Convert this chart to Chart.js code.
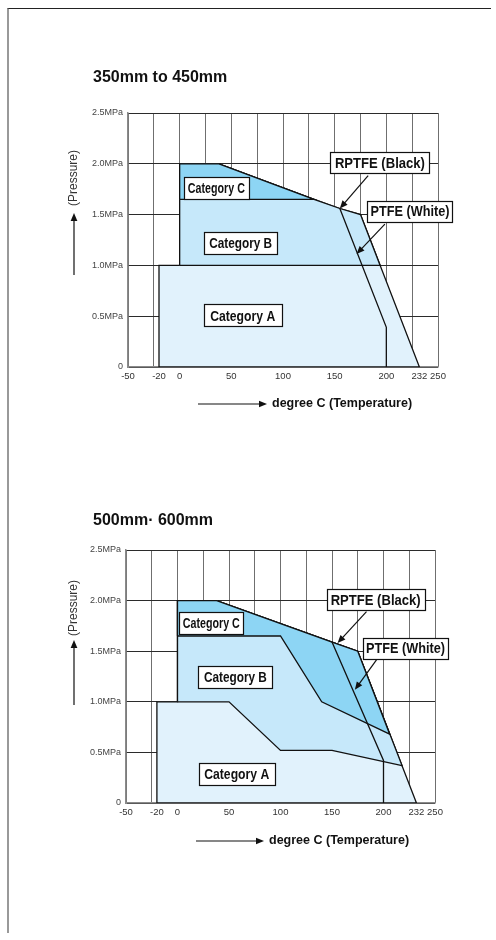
<!DOCTYPE html>
<html>
<head>
<meta charset="utf-8">
<script src="https://cdn.jsdelivr.net/npm/chart.js@4"></script>
<style>
  html, body { margin: 0; padding: 0; background: #fff; }
  body { width: 496px; height: 940px; position: relative; overflow: hidden; }
  canvas { position: absolute; left: 0; display: block; }
  #frame { position: absolute; left: 7px; top: 8px; width: 482px; height: 924px;
           border-top: 1px solid #222; border-left: 2px solid #999; }
</style>
</head>
<body>
<div id="frame"></div>
<canvas id="chart1" width="496" height="470" style="top:0"></canvas>
<canvas id="chart2" width="496" height="470" style="top:470px"></canvas>
<script>
// axes
const xGrid = [-50, -25, -20, 0, 25, 50, 75, 100, 125, 150, 175, 200, 225, 232, 250];
const xLabels = [-50, -20, 0, 50, 100, 150, 200, 232, 250];
const xNoGrid = [-20, 232];
const yTicks = [0, 0.5, 1.0, 1.5, 2.0, 2.5];

// 350mm to 450mm
const ptfe1T = [-20, -20, 0, 0, 38, 130, 155, 175, 232, -20];
const ptfe1P = [0, 1.0, 1.0, 2.0, 2.0, 1.65, 1.56, 1.5, 0, 0];
const catB1T = [0, 0, 38, 130, 155, 175, 194, 0];
const catB1P = [1.0, 2.0, 2.0, 1.65, 1.56, 1.5, 1.0, 1.0];
const catC1T = [0, 0, 38, 130, 0];
const catC1P = [1.65, 2.0, 2.0, 1.65, 1.65];
const rptfe1T = [155, 200, 200];
const rptfe1P = [1.56, 0.39, 0];

// 500mm - 600mm
const ptfe2T = [-20, -20, 0, 0, 38, 150, 175, 232, -20];
const ptfe2P = [0, 1.0, 1.0, 2.0, 2.0, 1.59, 1.5, 0, 0];
const catB2T = [0, 0, 38, 150, 175, 218, 150, 100, 50, 0];
const catB2P = [1.0, 2.0, 2.0, 1.59, 1.5, 0.37, 0.52, 0.52, 1.0, 1.0];
const catC2T = [0, 0, 38, 150, 175, 206, 140, 100, 0];
const catC2P = [1.65, 2.0, 2.0, 1.59, 1.5, 0.68, 1.0, 1.65, 1.65];
const rptfe2T = [150, 200, 200];
const rptfe2P = [1.59, 0.42, 0];

const labelTexts = ['Category C', 'Category B', 'Category A', 'RPTFE (Black)', 'PTFE (White)'];

const FONT = "'Liberation Sans', Arial, Helvetica, sans-serif";
const colA = '#e1f2fc', colB = '#c6e8fa', colC = '#8dd5f4';

Chart.defaults.font.family = FONT;

function pts(ts, ps) {
  return ts.map((t, i) => ({ x: t, y: ps[i] }));
}

function area(ts, ps, bg, order) {
  return {
    data: pts(ts, ps), showLine: true, fill: 'shape', backgroundColor: bg,
    borderColor: '#111', borderWidth: 1.3, pointRadius: 0, tension: 0, order,
  };
}

function arrow(ctx, x0, y0, x1, y1, head) {
  const a = Math.atan2(y1 - y0, x1 - x0);
  ctx.beginPath();
  ctx.moveTo(x0, y0);
  ctx.lineTo(x1 - Math.cos(a) * head * 0.8, y1 - Math.sin(a) * head * 0.8);
  ctx.stroke();
  ctx.beginPath();
  ctx.moveTo(x1, y1);
  ctx.lineTo(x1 - head * Math.cos(a) + head * 0.42 * Math.sin(a), y1 - head * Math.sin(a) - head * 0.42 * Math.cos(a));
  ctx.lineTo(x1 - head * Math.cos(a) - head * 0.42 * Math.sin(a), y1 - head * Math.sin(a) + head * 0.42 * Math.cos(a));
  ctx.closePath();
  ctx.fill();
}

function decor(cfg) {
  return {
    id: 'decor',
    afterDatasetsDraw(chart) {
      const { ctx } = chart;
      const sx = chart.scales.x, sy = chart.scales.y;
      ctx.save();
      ctx.strokeStyle = '#111';
      ctx.fillStyle = '#111';
      ctx.lineWidth = 1.2;
      cfg.arrows.forEach(a => arrow(ctx,
        sx.getPixelForValue(a[0]), sy.getPixelForValue(a[1]),
        sx.getPixelForValue(a[2]), sy.getPixelForValue(a[3]), 8));
      cfg.boxes.forEach((b, i) => {
        const cx = sx.getPixelForValue(b.t), cy = sy.getPixelForValue(b.p);
        const l = Math.round(cx - b.w / 2) + 0.5, t = Math.round(cy - b.h / 2) + 0.5;
        ctx.fillStyle = '#fff';
        ctx.fillRect(l, t, b.w, b.h);
        ctx.lineWidth = 1.2;
        ctx.strokeStyle = '#111';
        ctx.strokeRect(l, t, b.w, b.h);
        ctx.fillStyle = '#111';
        ctx.font = 'bold ' + b.fs + 'px ' + FONT;
        ctx.textAlign = 'center';
        ctx.textBaseline = 'middle';
        ctx.fillText(labelTexts[i], cx, cy + 1, b.tw);
      });
      ctx.restore();
    },
    afterDraw(chart) {
      const { ctx } = chart;
      ctx.save();
      ctx.fillStyle = '#111';
      ctx.strokeStyle = '#111';
      ctx.textBaseline = 'middle';
      ctx.textAlign = 'left';
      ctx.font = 'bold 16px ' + FONT;
      ctx.fillText(cfg.title, cfg.titleX, cfg.titleY);

      ctx.font = 'bold 12.5px ' + FONT;
      ctx.fillText('degree C (Temperature)', cfg.xt.tx, cfg.xt.y);
      ctx.lineWidth = 1.2;
      arrow(ctx, cfg.xt.x0, cfg.xt.y, cfg.xt.x1, cfg.xt.y, 8);

      ctx.save();
      ctx.translate(cfg.yt.x, cfg.yt.ty);
      ctx.rotate(-Math.PI / 2);
      ctx.textAlign = 'center';
      ctx.fillStyle = '#333';
      ctx.font = '12px ' + FONT;
      ctx.fillText('(Pressure)', 0, 0);
      ctx.restore();
      arrow(ctx, cfg.yt.x, cfg.yt.y0, cfg.yt.x, cfg.yt.y1, 8);
      ctx.restore();
    },
  };
}

function makeChart(id, datasets, box, cfg) {
  return new Chart(document.getElementById(id), {
    type: 'scatter',
    data: { datasets },
    options: {
      responsive: false,
      animation: false,
      layout: { padding: { left: 0, top: box.top, right: box.right, bottom: 0 } },
      plugins: { legend: { display: false }, tooltip: { enabled: false } },
      scales: {
        x: {
          type: 'linear', min: -50, max: 250,
          afterBuildTicks: ax => { ax.ticks = xGrid.map(v => ({ value: v })); },
          afterFit: s => { s.height = box.xh; },
          grid: {
            color: c => (c.tick && xNoGrid.includes(c.tick.value)) ? 'rgba(0,0,0,0)' : '#6f6f6f',
            lineWidth: 1, drawTicks: false,
          },
          border: { color: '#8a8a8a', width: 1.5 },
          ticks: {
            autoSkip: false, maxRotation: 0, padding: 4, color: '#333', font: { size: 9.5 },
            callback: v => xLabels.includes(v) ? String(v) : '',
          },
        },
        y: {
          type: 'linear', min: 0, max: 2.5,
          afterBuildTicks: ax => { ax.ticks = yTicks.map(v => ({ value: v })); },
          afterFit: s => { s.width = box.yw; },
          grid: { color: '#2b2b2b', lineWidth: 1, drawTicks: false },
          border: { color: '#8a8a8a', width: 1.5 },
          ticks: {
            padding: 5, color: '#444', font: { size: 9 },
            callback: v => v === 0 ? '0' : v.toFixed(1) + 'MPa',
          },
        },
      },
    },
    plugins: [decor(cfg)],
  });
}

makeChart('chart1', [
  area(ptfe1T, ptfe1P, colA, 4),
  area(catB1T, catB1P, colB, 3),
  area(catC1T, catC1P, colC, 2),
  { data: pts(rptfe1T, rptfe1P), showLine: true, fill: false, borderColor: '#111',
    borderWidth: 1.3, pointRadius: 0, tension: 0, order: 1 },
], { top: 113, right: 58, xh: 103, yw: 128 }, {
  title: '350mm to 450mm', titleX: 93, titleY: 78,
  xt: { x0: 198, x1: 267, tx: 272, y: 404 },
  yt: { x: 74, ty: 178, y0: 275, y1: 213 },
  boxes: [
    { t: 35.5, p: 1.762, w: 65, h: 22, tw: 57, fs: 15 },
    { t: 59, p: 1.225, w: 73, h: 22, tw: 63, fs: 15 },
    { t: 61, p: 0.507, w: 78, h: 22, tw: 65, fs: 15 },
    { t: 193.8, p: 2.009, w: 99, h: 21, tw: 90, fs: 14 },
    { t: 222.9, p: 1.534, w: 85, h: 21, tw: 79, fs: 14 },
  ],
  arrows: [
    [182.4, 1.884, 155, 1.56],
    [198.6, 1.407, 171.2, 1.111],
  ],
});

makeChart('chart2', [
  area(ptfe2T, ptfe2P, colA, 4),
  area(catB2T, catB2P, colB, 3),
  area(catC2T, catC2P, colC, 2),
  { data: pts(rptfe2T, rptfe2P), showLine: true, fill: false, borderColor: '#111',
    borderWidth: 1.3, pointRadius: 0, tension: 0, order: 1 },
], { top: 80, right: 61, xh: 137, yw: 126 }, {
  title: '500mm\u00b7 600mm', titleX: 93, titleY: 50.5,
  xt: { x0: 196, x1: 264, tx: 269, y: 371 },
  yt: { x: 74, ty: 138, y0: 235, y1: 170 },
  boxes: [
    { t: 32.8, p: 1.777, w: 64, h: 22, tw: 57, fs: 15 },
    { t: 56.2, p: 1.246, w: 74, h: 22, tw: 63, fs: 15 },
    { t: 57.5, p: 0.287, w: 76, h: 22, tw: 65, fs: 15 },
    { t: 192.4, p: 2.006, w: 98, h: 21, tw: 90, fs: 14 },
    { t: 221.4, p: 1.531, w: 85, h: 21, tw: 79, fs: 14 },
  ],
  arrows: [
    [183.5, 1.891, 155.4, 1.58],
    [193.2, 1.414, 172.2, 1.118],
  ],
});
</script>
</body>
</html>
